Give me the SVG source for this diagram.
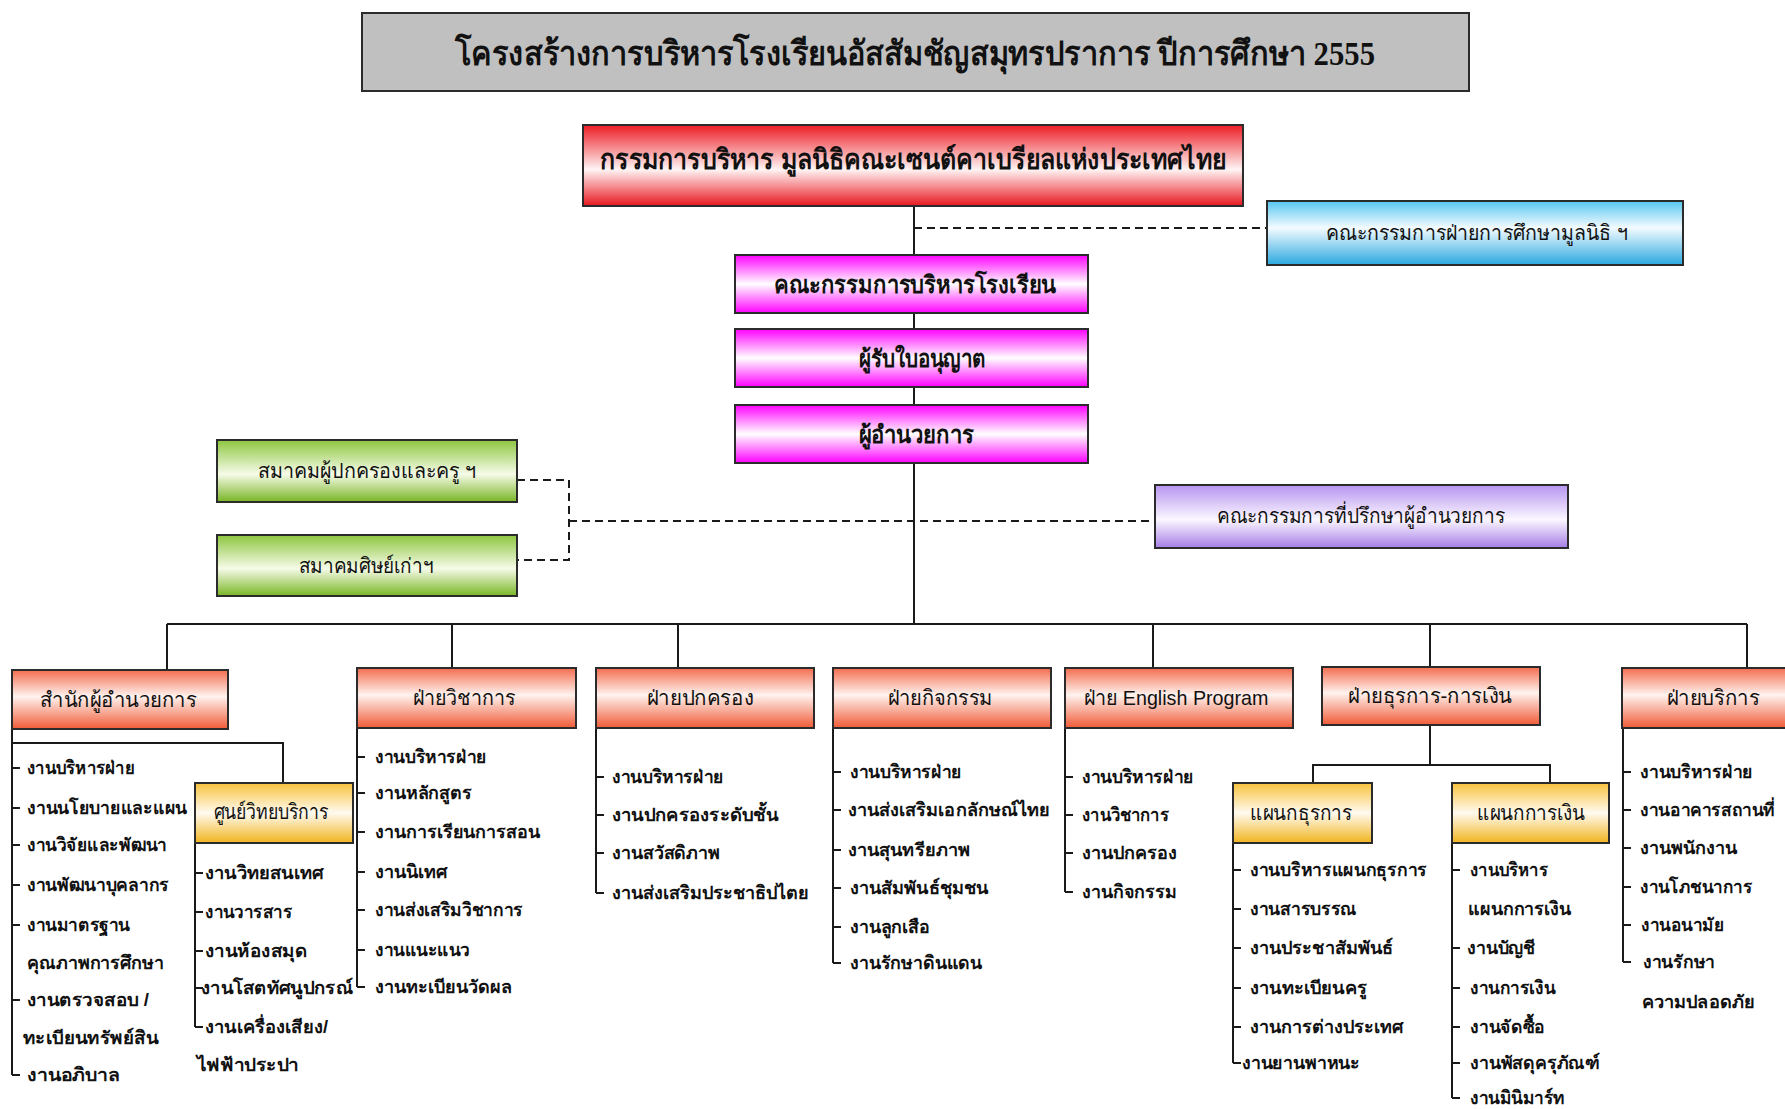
<svg xmlns="http://www.w3.org/2000/svg" width="1785" height="1109" viewBox="0 0 1785 1109">
<style>
text{font-family:"Liberation Sans","Noto Sans",sans-serif;fill:#111}
.ttl{font-family:"Liberation Serif","Noto Sans",serif;font-size:34px;font-weight:bold}
.b{font-weight:bold}
.lbl{font-size:21px}
.it{font-size:18px}
.it text{font-weight:bold}
.it text.lbl{font-weight:normal}
.box{stroke:#2b2b2b;stroke-width:2}
.ln{stroke:#1a1a1a;stroke-width:2;fill:none}
.ds{stroke:#1a1a1a;stroke-width:2;fill:none;stroke-dasharray:8 5}
</style>
<defs>
<linearGradient id="gRed" x1="0" y1="0" x2="0" y2="1"><stop offset="0" stop-color="#ec1c24"/><stop offset="0.55" stop-color="#fff4f4"/><stop offset="1" stop-color="#e8161e"/></linearGradient>
<linearGradient id="gMag" x1="0" y1="0" x2="0" y2="1"><stop offset="0" stop-color="#ff00ff"/><stop offset="0.5" stop-color="#ffffff"/><stop offset="1" stop-color="#ff00ff"/></linearGradient>
<linearGradient id="gBlue" x1="0" y1="0" x2="0" y2="1"><stop offset="0" stop-color="#55c6f0"/><stop offset="0.42" stop-color="#f4fbff"/><stop offset="1" stop-color="#2aa8e0"/></linearGradient>
<linearGradient id="gGreen" x1="0" y1="0" x2="0" y2="1"><stop offset="0" stop-color="#8dc63f"/><stop offset="0.55" stop-color="#f6fbe8"/><stop offset="1" stop-color="#78b524"/></linearGradient>
<linearGradient id="gPur" x1="0" y1="0" x2="0" y2="1"><stop offset="0" stop-color="#b794f0"/><stop offset="0.55" stop-color="#fbf7ff"/><stop offset="1" stop-color="#a57de6"/></linearGradient>
<linearGradient id="gOr" x1="0" y1="0" x2="0" y2="1"><stop offset="0" stop-color="#f36c4e"/><stop offset="0.45" stop-color="#fff3ef"/><stop offset="1" stop-color="#f05a36"/></linearGradient>
<linearGradient id="gYel" x1="0" y1="0" x2="0" y2="1"><stop offset="0" stop-color="#f7c23c"/><stop offset="0.5" stop-color="#fffaf0"/><stop offset="1" stop-color="#f0b41e"/></linearGradient>
</defs>
<rect width="1785" height="1109" fill="#ffffff"/>

<g id="connectors">
<line class="ln" x1="914" y1="206" x2="914" y2="624"/>
<line class="ds" x1="914" y1="228" x2="1267" y2="228"/>
<polyline class="ds" points="517,480 569,480 569,560 517,560"/>
<line class="ds" x1="569" y1="521" x2="1154" y2="521"/>
<line class="ln" x1="167" y1="624" x2="1747" y2="624"/>
<line class="ln" x1="167" y1="624" x2="167" y2="670"/>
<line class="ln" x1="452" y1="624" x2="452" y2="668"/>
<line class="ln" x1="678" y1="624" x2="678" y2="668"/>
<line class="ln" x1="1153" y1="624" x2="1153" y2="668"/>
<line class="ln" x1="1430" y1="624" x2="1430" y2="667"/>
<line class="ln" x1="1747" y1="624" x2="1747" y2="668"/>
<line class="ln" x1="1430" y1="725" x2="1430" y2="765"/>
<polyline class="ln" points="1313,783 1313,765 1550,765 1550,783"/>
<polyline class="ln" points="12,743 283,743 283,783"/>
<path class="ln" d="M12,730V1075M12,768h8M12,808h8M12,845h8M12,885h8M12,925h8M12,1000h8M12,1075h8"/>
<path class="ln" d="M195,843V1027M195,873h8M195,912h8M195,951h8M195,988h8M195,1027h8"/>
<path class="ln" d="M357,728V987M357,757h8M357,793h8M357,832h8M357,872h8M357,910h8M357,950h8M357,987h8"/>
<path class="ln" d="M596,728V893M596,777h8M596,815h8M596,853h8M596,893h8"/>
<path class="ln" d="M833,728V963M833,772h8M833,810h8M833,850h8M833,888h8M833,927h8M833,963h8"/>
<path class="ln" d="M1065,728V892M1065,777h8M1065,815h8M1065,853h8M1065,892h8"/>
<path class="ln" d="M1233,843V1063M1233,870h8M1233,909h8M1233,948h8M1233,988h8M1233,1027h8M1233,1063h8"/>
<path class="ln" d="M1452,843V1098M1452,870h8M1452,948h8M1452,988h8M1452,1027h8M1452,1063h8M1452,1098h8"/>
<path class="ln" d="M1623,728V962M1623,772h8M1623,810h8M1623,848h8M1623,887h8M1623,925h8M1623,962h8"/>
</g>

<g id="title">
<rect class="box" x="362" y="13" width="1107" height="78" fill="#c0c0c0"/>
<text class="ttl" x="915" y="65" text-anchor="middle" textLength="920" lengthAdjust="spacingAndGlyphs">โครงสร้างการบริหารโรงเรียนอัสสัมชัญสมุทรปราการ ปีการศึกษา 2555</text>
</g>

<g id="n-foundation">
<rect class="box" x="583" y="125" width="660" height="81" fill="url(#gRed)"/>
<text class="b" x="913" y="169" font-size="28" text-anchor="middle" textLength="626" lengthAdjust="spacingAndGlyphs">กรรมการบริหาร มูลนิธิคณะเซนต์คาเบรียลแห่งประเทศไทย</text>
</g>

<g id="n-edu-committee">
<rect class="box" x="1267" y="201" width="416" height="64" fill="url(#gBlue)"/>
<text class="lbl" x="1477" y="240" text-anchor="middle" textLength="302" lengthAdjust="spacingAndGlyphs">คณะกรรมการฝ่ายการศึกษามูลนิธิ ฯ</text>
</g>

<g id="n-school-board">
<rect class="box" x="735" y="255" width="353" height="58" fill="url(#gMag)"/>
<text class="b" x="915" y="293" font-size="24" text-anchor="middle" textLength="282" lengthAdjust="spacingAndGlyphs">คณะกรรมการบริหารโรงเรียน</text>
</g>
<g id="n-licensee">
<rect class="box" x="735" y="329" width="353" height="58" fill="url(#gMag)"/>
<text class="b" x="922" y="367" font-size="24" text-anchor="middle" textLength="127" lengthAdjust="spacingAndGlyphs">ผู้รับใบอนุญาต</text>
</g>
<g id="n-director">
<rect class="box" x="735" y="405" width="353" height="58" fill="url(#gMag)"/>
<text class="b" x="916" y="443" font-size="24" text-anchor="middle" textLength="115" lengthAdjust="spacingAndGlyphs">ผู้อำนวยการ</text>
</g>

<g id="n-parents">
<rect class="box" x="217" y="440" width="300" height="62" fill="url(#gGreen)"/>
<text class="lbl" x="367" y="478" text-anchor="middle" textLength="219" lengthAdjust="spacingAndGlyphs">สมาคมผู้ปกครองและครู ฯ</text>
</g>
<g id="n-alumni">
<rect class="box" x="217" y="535" width="300" height="61" fill="url(#gGreen)"/>
<text class="lbl" x="366" y="573" text-anchor="middle" textLength="135" lengthAdjust="spacingAndGlyphs">สมาคมศิษย์เก่าฯ</text>
</g>

<g id="n-advisors">
<rect class="box" x="1155" y="485" width="413" height="63" fill="url(#gPur)"/>
<text class="lbl" x="1361" y="523" text-anchor="middle" textLength="288" lengthAdjust="spacingAndGlyphs">คณะกรรมการที่ปรึกษาผู้อำนวยการ</text>
</g>

<g id="n-office" class="it">
<rect class="box" x="12" y="670" width="216" height="59" fill="url(#gOr)"/>
<text class="lbl" x="118" y="707" text-anchor="middle" textLength="157" lengthAdjust="spacingAndGlyphs">สำนักผู้อำนวยการ</text>
<g dominant-baseline="central">
<text x="27" y="768" textLength="108" lengthAdjust="spacingAndGlyphs">งานบริหารฝ่าย</text>
<text x="27" y="808" textLength="160" lengthAdjust="spacingAndGlyphs">งานนโยบายและแผน</text>
<text x="27" y="845" textLength="140" lengthAdjust="spacingAndGlyphs">งานวิจัยและพัฒนา</text>
<text x="27" y="885" textLength="142" lengthAdjust="spacingAndGlyphs">งานพัฒนาบุคลากร</text>
<text x="27" y="925" textLength="103" lengthAdjust="spacingAndGlyphs">งานมาตรฐาน</text>
<text x="27" y="963" textLength="137" lengthAdjust="spacingAndGlyphs">คุณภาพการศึกษา</text>
<text x="27" y="1000" textLength="122" lengthAdjust="spacingAndGlyphs">งานตรวจสอบ /</text>
<text x="23" y="1038" textLength="135" lengthAdjust="spacingAndGlyphs">ทะเบียนทรัพย์สิน</text>
<text x="27" y="1075" textLength="93" lengthAdjust="spacingAndGlyphs">งานอภิบาล</text>
</g>
</g>

<g id="n-resource-center" class="it">
<rect class="box" x="195" y="783" width="158" height="60" fill="url(#gYel)"/>
<text class="lbl" x="271" y="819" text-anchor="middle" textLength="115" lengthAdjust="spacingAndGlyphs">ศูนย์วิทยบริการ</text>
<g dominant-baseline="central">
<text x="205" y="873" textLength="118" lengthAdjust="spacingAndGlyphs">งานวิทยสนเทศ</text>
<text x="205" y="912" textLength="87" lengthAdjust="spacingAndGlyphs">งานวารสาร</text>
<text x="205" y="951" textLength="102" lengthAdjust="spacingAndGlyphs">งานห้องสมุด</text>
<text x="201" y="988" textLength="152" lengthAdjust="spacingAndGlyphs">งานโสตทัศนูปกรณ์</text>
<text x="205" y="1027" textLength="123" lengthAdjust="spacingAndGlyphs">งานเครื่องเสียง/</text>
<text x="197" y="1065" textLength="102" lengthAdjust="spacingAndGlyphs">ไฟฟ้าประปา</text>
</g>
</g>

<g id="n-academic" class="it">
<rect class="box" x="357" y="668" width="219" height="60" fill="url(#gOr)"/>
<text class="lbl" x="464" y="705" text-anchor="middle" textLength="103" lengthAdjust="spacingAndGlyphs">ฝ่ายวิชาการ</text>
<g dominant-baseline="central">
<text x="375" y="757" textLength="112" lengthAdjust="spacingAndGlyphs">งานบริหารฝ่าย</text>
<text x="375" y="793" textLength="97" lengthAdjust="spacingAndGlyphs">งานหลักสูตร</text>
<text x="375" y="832" textLength="165" lengthAdjust="spacingAndGlyphs">งานการเรียนการสอน</text>
<text x="375" y="872" textLength="72" lengthAdjust="spacingAndGlyphs">งานนิเทศ</text>
<text x="375" y="910" textLength="148" lengthAdjust="spacingAndGlyphs">งานส่งเสริมวิชาการ</text>
<text x="375" y="950" textLength="95" lengthAdjust="spacingAndGlyphs">งานแนะแนว</text>
<text x="375" y="987" textLength="137" lengthAdjust="spacingAndGlyphs">งานทะเบียนวัดผล</text>
</g>
</g>

<g id="n-discipline" class="it">
<rect class="box" x="596" y="668" width="218" height="60" fill="url(#gOr)"/>
<text class="lbl" x="700" y="705" text-anchor="middle" textLength="107" lengthAdjust="spacingAndGlyphs">ฝ่ายปกครอง</text>
<g dominant-baseline="central">
<text x="612" y="777" textLength="112" lengthAdjust="spacingAndGlyphs">งานบริหารฝ่าย</text>
<text x="612" y="815" textLength="166" lengthAdjust="spacingAndGlyphs">งานปกครองระดับชั้น</text>
<text x="612" y="853" textLength="108" lengthAdjust="spacingAndGlyphs">งานสวัสดิภาพ</text>
<text x="612" y="893" textLength="197" lengthAdjust="spacingAndGlyphs">งานส่งเสริมประชาธิปไตย</text>
</g>
</g>

<g id="n-activities" class="it">
<rect class="box" x="833" y="668" width="218" height="60" fill="url(#gOr)"/>
<text class="lbl" x="940" y="705" text-anchor="middle" textLength="105" lengthAdjust="spacingAndGlyphs">ฝ่ายกิจกรรม</text>
<g dominant-baseline="central">
<text x="850" y="772" textLength="112" lengthAdjust="spacingAndGlyphs">งานบริหารฝ่าย</text>
<text x="848" y="810" textLength="202" lengthAdjust="spacingAndGlyphs">งานส่งเสริมเอกลักษณ์ไทย</text>
<text x="848" y="850" textLength="122" lengthAdjust="spacingAndGlyphs">งานสุนทรียภาพ</text>
<text x="850" y="888" textLength="138" lengthAdjust="spacingAndGlyphs">งานสัมพันธ์ชุมชน</text>
<text x="850" y="927" textLength="80" lengthAdjust="spacingAndGlyphs">งานลูกเสือ</text>
<text x="850" y="963" textLength="132" lengthAdjust="spacingAndGlyphs">งานรักษาดินแดน</text>
</g>
</g>

<g id="n-english" class="it">
<rect class="box" x="1065" y="668" width="228" height="60" fill="url(#gOr)"/>
<text class="lbl" x="1176" y="705" text-anchor="middle" textLength="185" lengthAdjust="spacingAndGlyphs">ฝ่าย English Program</text>
<g dominant-baseline="central">
<text x="1082" y="777" textLength="112" lengthAdjust="spacingAndGlyphs">งานบริหารฝ่าย</text>
<text x="1082" y="815" textLength="87" lengthAdjust="spacingAndGlyphs">งานวิชาการ</text>
<text x="1082" y="853" textLength="95" lengthAdjust="spacingAndGlyphs">งานปกครอง</text>
<text x="1082" y="892" textLength="95" lengthAdjust="spacingAndGlyphs">งานกิจกรรม</text>
</g>
</g>

<g id="n-finance-admin">
<rect class="box" x="1322" y="667" width="218" height="58" fill="url(#gOr)"/>
<text class="lbl" x="1430" y="703" text-anchor="middle" textLength="164" lengthAdjust="spacingAndGlyphs">ฝ่ายธุรการ-การเงิน</text>
</g>

<g id="n-admin-section" class="it">
<rect class="box" x="1233" y="783" width="139" height="60" fill="url(#gYel)"/>
<text class="lbl" x="1301" y="820" text-anchor="middle" textLength="102" lengthAdjust="spacingAndGlyphs">แผนกธุรการ</text>
<g dominant-baseline="central">
<text x="1250" y="870" textLength="177" lengthAdjust="spacingAndGlyphs">งานบริหารแผนกธุรการ</text>
<text x="1250" y="909" textLength="107" lengthAdjust="spacingAndGlyphs">งานสารบรรณ</text>
<text x="1250" y="948" textLength="143" lengthAdjust="spacingAndGlyphs">งานประชาสัมพันธ์</text>
<text x="1250" y="988" textLength="117" lengthAdjust="spacingAndGlyphs">งานทะเบียนครู</text>
<text x="1250" y="1027" textLength="153" lengthAdjust="spacingAndGlyphs">งานการต่างประเทศ</text>
<text x="1242" y="1063" textLength="118" lengthAdjust="spacingAndGlyphs">งานยานพาหนะ</text>
</g>
</g>

<g id="n-finance-section" class="it">
<rect class="box" x="1452" y="783" width="157" height="60" fill="url(#gYel)"/>
<text class="lbl" x="1531" y="820" text-anchor="middle" textLength="108" lengthAdjust="spacingAndGlyphs">แผนกการเงิน</text>
<g dominant-baseline="central">
<text x="1470" y="870" textLength="78" lengthAdjust="spacingAndGlyphs">งานบริหาร</text>
<text x="1468" y="909" textLength="103" lengthAdjust="spacingAndGlyphs">แผนกการเงิน</text>
<text x="1467" y="948" textLength="68" lengthAdjust="spacingAndGlyphs">งานบัญชี</text>
<text x="1470" y="988" textLength="85" lengthAdjust="spacingAndGlyphs">งานการเงิน</text>
<text x="1470" y="1027" textLength="75" lengthAdjust="spacingAndGlyphs">งานจัดซื้อ</text>
<text x="1470" y="1063" textLength="130" lengthAdjust="spacingAndGlyphs">งานพัสดุครุภัณฑ์</text>
<text x="1470" y="1098" textLength="95" lengthAdjust="spacingAndGlyphs">งานมินิมาร์ท</text>
</g>
</g>

<g id="n-services" class="it">
<rect class="box" x="1622" y="668" width="180" height="60" fill="url(#gOr)"/>
<text class="lbl" x="1713" y="705" text-anchor="middle" textLength="93" lengthAdjust="spacingAndGlyphs">ฝ่ายบริการ</text>
<g dominant-baseline="central">
<text x="1640" y="772" textLength="113" lengthAdjust="spacingAndGlyphs">งานบริหารฝ่าย</text>
<text x="1640" y="810" textLength="135" lengthAdjust="spacingAndGlyphs">งานอาคารสถานที่</text>
<text x="1640" y="848" textLength="97" lengthAdjust="spacingAndGlyphs">งานพนักงาน</text>
<text x="1640" y="887" textLength="112" lengthAdjust="spacingAndGlyphs">งานโภชนาการ</text>
<text x="1641" y="925" textLength="83" lengthAdjust="spacingAndGlyphs">งานอนามัย</text>
<text x="1643" y="962" textLength="72" lengthAdjust="spacingAndGlyphs">งานรักษา</text>
<text x="1642" y="1002" textLength="113" lengthAdjust="spacingAndGlyphs">ความปลอดภัย</text>
</g>
</g>
</svg>
